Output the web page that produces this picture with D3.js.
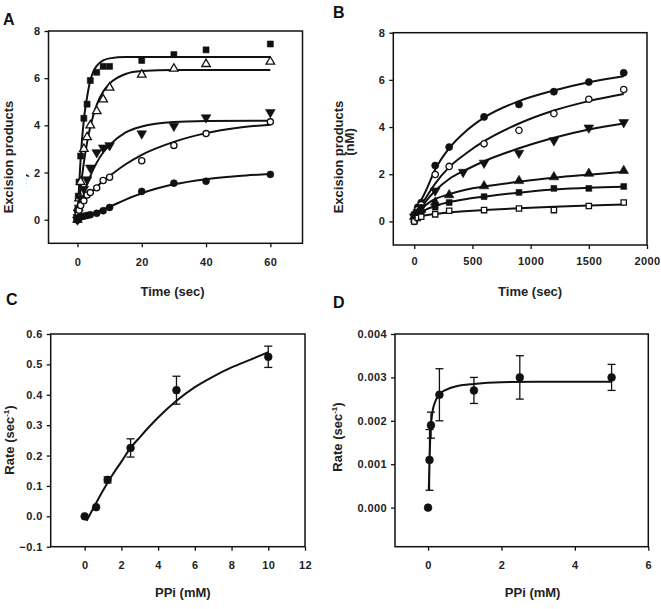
<!DOCTYPE html>
<html>
<head>
<meta charset="utf-8">
<script src="https://cdn.jsdelivr.net/npm/d3@7"></script>
<style>
  body { margin: 0; background: #fff; }
  svg { display: block; font-family: "Liberation Sans", Arial, sans-serif; font-weight: bold; }
  .tick text { font-size: 11px; fill: #222; letter-spacing: 0.4px; }
</style>
</head>
<body>
<svg id="svg" width="661" height="609"></svg>
<script>
// ---- panel A: excision products vs time (sec), fast range
var timesA = [0, 0.1, 0.25, 0.5, 1, 2, 3, 4, 6, 8, 10, 20, 30, 40, 60];
var aSquare = [0, 0.4, 1.0, 1.6, 2.7, 4.3, 4.9, 5.9, 6.25, 6.5, 6.5, 6.75, 7.0, 7.2, 7.45];
var aTriOpen = [0, 0.2, 0.5, 0.9, 1.6, 3.0, 3.5, 4.0, 4.6, 5.1, 5.6, 6.15, 6.4, 6.6, 6.7];
var aTriDown = [0, 0.1, 0.3, 0.5, 0.9, 1.3, 1.7, 2.2, 2.85, 3.05, 3.15, 3.65, 3.97, 4.33, 4.55];
var aCircOpen = [0, 0.1, 0.25, 0.4, 0.6, 0.8, 1.05, 1.15, 1.35, 1.66, 1.8, 2.5, 3.15, 3.65, 4.15];
var aCircFill = [0, 0, 0.05, 0.1, 0.12, 0.15, 0.18, 0.21, 0.27, 0.38, 0.52, 1.2, 1.55, 1.63, 1.92];

// fitted curves [time, nM]
var fitASquare = [[0,0],[0.5,1.4],[1,2.6],[2,4.25],[3,5.2],[4,5.9],[5,6.3],[6,6.52],[8,6.75],[10,6.84],[15,6.9],[20,6.9],[60,6.9]];
var fitATriOpen = [[0,0],[1,1.35],[2,2.42],[3,3.27],[4,3.94],[6,4.87],[8,5.43],[10,5.77],[15,6.18],[20,6.3],[30,6.35],[60,6.35]];
var fitATriDown = [[0,0],[1,0.6],[2,1.1],[4,1.85],[6,2.42],[8,2.85],[10,3.16],[15,3.7],[20,3.95],[30,4.14],[40,4.18],[60,4.2]];
var fitACircOpen = [[0,0],[0.5,0.3],[1,0.5],[2,0.8],[4,1.1],[6,1.4],[10,1.85],[15,2.35],[20,2.75],[30,3.3],[40,3.67],[50,3.9],[60,4.03]];
var fitACircFill = [[0,0],[1,0.1],[2,0.15],[4,0.22],[6,0.33],[10,0.55],[15,0.85],[20,1.12],[30,1.5],[40,1.72],[50,1.85],[60,1.94]];

// ---- panel B: excision products vs time (sec), slow range
var timesB = [0, 30, 60, 180, 300, 600, 900, 1200, 1500, 1800];
var timesBTri = [0, 30, 60, 180, 420, 600, 900, 1200, 1500, 1800];
var bCircFill = [0.3, 0.6, 0.8, 2.37, 3.15, 4.43, 4.96, 5.5, 5.91, 6.3];
var bCircOpen = [0, 0.5, 0.7, 1.99, 2.33, 3.29, 3.86, 4.57, 5.18, 5.59];
var bTriDown = [0.2, 0.4, 0.6, 1.3, 2.09, 2.48, 2.9, 3.43, 3.97, 4.2];
var bTriUp = [0.2, 0.35, 0.5, 0.8, 1.12, 1.5, 1.72, 1.88, 2.03, 2.15];
var bSquare = [0.2, 0.3, 0.4, 0.6, 0.8, 1.05, 1.23, 1.4, 1.4, 1.48];
var bSquareOpen = [0, 0.15, 0.2, 0.3, 0.45, 0.48, 0.55, 0.48, 0.65, 0.8];

var fitBCircFill = [[0,0.3],[50,0.8],[100,1.3],[180,2.2],[300,3.1],[450,3.85],[600,4.4],[900,5.1],[1200,5.55],[1500,5.9],[1800,6.15]];
var fitBCircOpen = [[0,0.2],[50,0.6],[100,1.0],[180,1.6],[300,2.3],[450,2.9],[600,3.4],[900,4.15],[1200,4.7],[1500,5.1],[1800,5.4]];
var fitBTriDown = [[0,0.2],[50,0.5],[100,0.85],[180,1.3],[300,1.8],[450,2.2],[600,2.55],[900,3.1],[1200,3.55],[1500,3.9],[1800,4.15]];
var fitBTriUp = [[0,0.2],[50,0.45],[100,0.7],[180,0.95],[300,1.15],[450,1.35],[600,1.48],[900,1.68],[1200,1.85],[1500,1.98],[1800,2.1]];
var fitBSquare = [[0,0.15],[50,0.35],[100,0.5],[180,0.65],[300,0.82],[450,0.95],[600,1.05],[900,1.22],[1200,1.35],[1500,1.43],[1800,1.47]];
var fitBSquareOpen = [[0,0.1],[50,0.2],[100,0.26],[180,0.32],[300,0.38],[600,0.48],[900,0.56],[1200,0.62],[1500,0.67],[1800,0.72]];

// ---- panel C: rate vs PPi (mM)
var ppiC = [0, 0.625, 1.25, 2.5, 5, 10];
var rateC = [0, 0.03, 0.12, 0.225, 0.415, 0.525];
var errC = [0, 0, 0.01, 0.03, 0.046, 0.035];
var fitC = [[0.1,-0.015],[0.5,0.03],[1,0.085],[1.5,0.135],[2,0.18],[2.5,0.225],[3,0.26],[4,0.325],[5,0.38],[6,0.425],[7,0.46],[8,0.49],[9,0.515],[10,0.54]];

// ---- panel D: rate vs PPi (mM)
var ppiD = [0, 0.04, 0.08, 0.31, 1.25, 2.5, 5];
var rateD = [0, 0.0011, 0.0019, 0.0026, 0.0027, 0.003, 0.003];
var errD = [0, 0.0007, 0.0003, 0.0006, 0.0003, 0.0005, 0.0003];
var fitD = [[0.02,0.0004],[0.04,0.0011],[0.06,0.0016],[0.08,0.0019],[0.12,0.0022],[0.2,0.00245],[0.3,0.0026],[0.5,0.00272],[0.8,0.0028],[1.25,0.00285],[2,0.00289],[3,0.0029],[5,0.0029]];

var svg = d3.select("svg");
var ink = "#111";

function zip(xs, ys) {
    return xs.map(function (x, i) { return [x, ys[i]]; });
}

function panel(cfg) {
    var x = d3.scaleLinear().domain(cfg.xDomain).range(cfg.xRange);
    var y = d3.scaleLinear().domain(cfg.yDomain).range(cfg.yRange);
    var g = svg.append("g");

    // frame
    g.append("rect")
            .attr("x", cfg.xRange[0]).attr("y", cfg.yRange[1])
            .attr("width", cfg.xRange[1] - cfg.xRange[0])
            .attr("height", cfg.yRange[0] - cfg.yRange[1])
            .attr("fill", "none").attr("stroke", ink).attr("stroke-width", 1.5);

    var xAxis = g.append("g")
            .attr("transform", "translate(0," + cfg.yRange[0] + ")")
            .call(d3.axisBottom(x).tickValues(cfg.xTicks).tickSize(4)
                    .tickPadding(cfg.xPad).tickFormat(d3.format("d")));
    var yAxis = g.append("g")
            .attr("transform", "translate(" + cfg.xRange[0] + ",0)")
            .call(d3.axisLeft(y).tickValues(cfg.yTicks).tickSize(4)
                    .tickPadding(4).tickFormat(d3.format(cfg.yFormat)));
    [xAxis, yAxis].forEach(function (a) {
        a.select(".domain").remove();
        a.selectAll("line").attr("stroke", ink).attr("stroke-width", 1.3);
        a.attr("font-family", null).attr("font-size", null);
    });

    var line = d3.line()
            .x(function (d) { return x(d[0]); })
            .y(function (d) { return y(d[1]); })
            .curve(d3.curveMonotoneX);

    cfg.fits.forEach(function (f) {
        g.append("path").datum(f)
                .attr("fill", "none").attr("stroke", ink)
                .attr("stroke-width", 2).attr("d", line);
    });

    (cfg.errors || []).forEach(function (e) {
        e.forEach(function (d) {
            if (!d[2]) return;
            var cx = x(d[0]), y0 = y(d[1] - d[2]), y1 = y(d[1] + d[2]);
            g.append("line").attr("x1", cx).attr("x2", cx).attr("y1", y0).attr("y2", y1)
                    .attr("stroke", ink).attr("stroke-width", 1.3);
            [y0, y1].forEach(function (yy) {
                g.append("line").attr("x1", cx - 4).attr("x2", cx + 4).attr("y1", yy).attr("y2", yy)
                        .attr("stroke", ink).attr("stroke-width", 1.3);
            });
        });
    });

    cfg.series.forEach(function (s) {
        var sym = d3.symbol().type(s.type).size(s.size || 38);
        g.selectAll(null).data(s.points).enter().append("path")
                .attr("d", sym)
                .attr("transform", function (d) {
                    return "translate(" + x(d[0]) + "," + y(d[1]) + ")" + (s.flip ? " rotate(180)" : "");
                })
                .attr("fill", s.open ? "#fff" : ink)
                .attr("stroke", ink)
                .attr("stroke-width", s.open ? 1.3 : 0.6);
    });

    // titles
    svg.append("text").attr("x", cfg.letter[0]).attr("y", cfg.letter[1])
            .attr("font-size", 16).attr("fill", "#111").text(cfg.name);
    svg.append("text")
            .attr("x", (cfg.xRange[0] + cfg.xRange[1]) / 2 + cfg.xTitleShift)
            .attr("y", cfg.xTitleY).attr("text-anchor", "middle")
            .attr("font-size", 13).attr("fill", "#222").text(cfg.xTitle);
    cfg.yTitles.forEach(function (t) {
        var txt = svg.append("text")
                .attr("transform", "translate(" + t.x + "," + t.y + ") rotate(-90)")
                .attr("text-anchor", "middle")
                .attr("font-size", 13).attr("fill", "#222");
        if (t.clip) txt.attr("clip-path", "url(#" + t.clip + ")");
        if (t.sup) {
            txt.append("tspan").text(t.text);
            txt.append("tspan").attr("font-size", 8).attr("dy", -5).text(t.sup);
            txt.append("tspan").attr("dy", 5).text(")");
        } else {
            txt.text(t.text);
        }
    });
}

svg.append("clipPath").attr("id", "clipA")
        .append("rect").attr("x", 0).attr("y", 0).attr("width", 20.5).attr("height", 300);

panel({
    name: "A", letter: [3, 25],
    xDomain: [-9, 70], xRange: [48.5, 302.5],
    yDomain: [-1, 8], yRange: [243.3, 31],
    xTicks: [0, 20, 40, 60], yTicks: [0, 2, 4, 6, 8], yFormat: "d", xPad: 11,
    xTitle: "Time (sec)", xTitleY: 296, xTitleShift: -3,
    yTitles: [{text: "Excision products", x: 13, y: 157},
              {text: "(nM)", x: 26, y: 187, clip: "clipA"}],
    fits: [fitASquare, fitATriOpen, fitATriDown, fitACircOpen, fitACircFill],
    series: [
        {points: zip(timesA, aSquare), type: d3.symbolSquare, size: 36},
        {points: zip(timesA, aTriOpen), type: d3.symbolTriangle, size: 32, open: true},
        {points: zip(timesA, aTriDown), type: d3.symbolTriangle, size: 40, flip: true},
        {points: zip(timesA, aCircOpen), type: d3.symbolCircle, size: 30, open: true},
        {points: zip(timesA, aCircFill), type: d3.symbolCircle, size: 38}
    ]
});

panel({
    name: "B", letter: [333, 18],
    xDomain: [-180, 2000], xRange: [393.3, 647],
    yDomain: [-1, 8], yRange: [245, 32.7],
    xTicks: [0, 500, 1000, 1500, 2000], yTicks: [0, 2, 4, 6, 8], yFormat: "d", xPad: 8,
    xTitle: "Time (sec)", xTitleY: 296, xTitleShift: 10,
    yTitles: [{text: "Excision products", x: 343, y: 157},
              {text: "(nM)", x: 354, y: 142}],
    fits: [fitBCircFill, fitBCircOpen, fitBTriDown, fitBTriUp, fitBSquare, fitBSquareOpen],
    series: [
        {points: zip(timesB, bCircFill), type: d3.symbolCircle, size: 40},
        {points: zip(timesB, bCircOpen), type: d3.symbolCircle, size: 32, open: true},
        {points: zip(timesBTri, bTriDown), type: d3.symbolTriangle, size: 40, flip: true},
        {points: zip(timesB, bTriUp), type: d3.symbolTriangle, size: 40},
        {points: zip(timesB, bSquare), type: d3.symbolSquare, size: 34},
        {points: zip(timesB, bSquareOpen), type: d3.symbolSquare, size: 28, open: true}
    ]
});

panel({
    name: "C", letter: [6, 305],
    xDomain: [-1.85, 12], xRange: [50.7, 305],
    yDomain: [-0.1, 0.6], yRange: [546.7, 334],
    xTicks: [0, 2, 4, 6, 8, 10, 12], yTicks: [-0.1, 0, 0.1, 0.2, 0.3, 0.4, 0.5, 0.6],
    yFormat: ".1f", xPad: 11,
    xTitle: "PPi (mM)", xTitleY: 597, xTitleShift: 5,
    yTitles: [{text: "Rate (sec", sup: "-1", x: 14, y: 440}],
    fits: [fitC],
    errors: [ppiC.map(function (v, i) { return [v, rateC[i], errC[i]]; })],
    series: [{points: zip(ppiC, rateC), type: d3.symbolCircle, size: 48}]
});

panel({
    name: "D", letter: [333, 308],
    xDomain: [-0.9, 6], xRange: [395, 648.3],
    yDomain: [-0.0009, 0.004], yRange: [546.7, 334],
    xTicks: [0, 2, 4, 6], yTicks: [0, 0.001, 0.002, 0.003, 0.004],
    yFormat: ".3f", xPad: 11,
    xTitle: "PPi (mM)", xTitleY: 597, xTitleShift: 11,
    yTitles: [{text: "Rate (sec", sup: "-1", x: 342, y: 437}],
    fits: [fitD],
    errors: [ppiD.map(function (v, i) { return [v, rateD[i], errD[i]]; })],
    series: [{points: zip(ppiD, rateD), type: d3.symbolCircle, size: 48}]
});
</script>
</body>
</html>
